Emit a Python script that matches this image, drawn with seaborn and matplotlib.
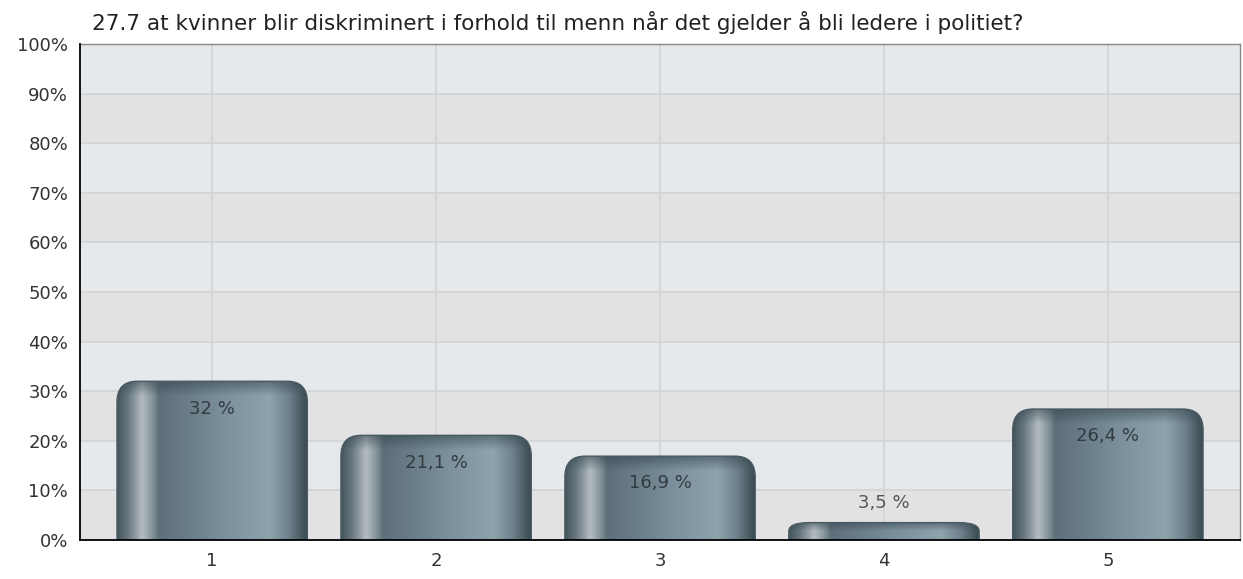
import matplotlib
matplotlib.use('Agg')
import matplotlib.pyplot as plt
from matplotlib.patches import FancyBboxPatch
from matplotlib.colors import LinearSegmentedColormap
import numpy as np
import seaborn as sns
import pandas as pd

title = "27.7 at kvinner blir diskriminert i forhold til menn når det gjelder å bli ledere i politiet?"
categories = ["1", "2", "3", "4", "5"]
values = [32.0, 21.1, 16.9, 3.5, 26.4]
value_labels = ["32 %", "21,1 %", "16,9 %", "3,5 %", "26,4 %"]

df = pd.DataFrame({"kategori": categories, "andel": values})

sns.set_style("white")
plt.rcParams['font.family'] = ['DejaVu Sans']

fig = plt.figure(figsize=(12.43, 5.79), dpi=100)
ax = fig.add_axes([0.0644, 0.0674, 0.9332, 0.8566])

ax = sns.barplot(data=df, x="kategori", y="andel", color="#6f8490", width=0.85, ax=ax, zorder=3)
bars = list(ax.patches)

ax.set_xlim(-0.59, 4.59)
ax.set_ylim(0, 100)

# background bands
ax.set_facecolor("#e6e8ea")
for i in range(10):
    c = "#e2e2e3" if i % 2 == 0 else "#e6e9eb"
    ax.axhspan(i * 10, (i + 1) * 10, color=c, zorder=0, lw=0)
ax.set_yticks(range(0, 101, 10))
ax.set_yticklabels([f"{v}%" for v in range(0, 101, 10)])
ax.grid(True, color="#d2d3d4", lw=1.2, zorder=1)
ax.set_axisbelow(True)

# cylinder-style gradient for bars
cmap = LinearSegmentedColormap.from_list("cyl", [
    (0.00, "#46545c"), (0.06, "#6a7a84"), (0.13, "#b4bcc0"), (0.18, "#8a989f"),
    (0.22, "#5c6e79"), (0.55, "#7a8f9b"), (0.80, "#8fa3ad"), (0.90, "#6e818c"),
    (1.00, "#3a4850")])
grad = np.linspace(0, 1, 256).reshape(1, -1)
vshade = LinearSegmentedColormap.from_list("top", [(0, (0.2, 0.27, 0.3, 0.0)), (1, (0.2, 0.27, 0.3, 0.55))])
rx = 0.09
for p in bars:
    x0, w, h = p.get_x(), p.get_width(), p.get_height()
    p.set_visible(False)
    ry = min(4.2, h * 0.5)
    style = f"round,pad=0,rounding_size={rx}"
    # extend below zero so only the top corners are rounded
    box = FancyBboxPatch((x0, -10), w, h + 10, boxstyle=style, mutation_aspect=ry / rx,
                         facecolor="none", edgecolor="none", zorder=3)
    ax.add_patch(box)
    im = ax.imshow(grad, cmap=cmap, extent=(x0, x0 + w, 0, h), aspect='auto', zorder=3)
    im.set_clip_path(box)
    # darker band along the top
    band = min(3.0, h * 0.5)
    im2 = ax.imshow(np.linspace(0, 1, 64).reshape(-1, 1)[::-1], cmap=vshade,
                    extent=(x0, x0 + w, h - band, h), aspect='auto', zorder=3.5)
    im2.set_clip_path(box)
    rim = FancyBboxPatch((x0, -10), w, h + 10, boxstyle=style, mutation_aspect=ry / rx,
                         facecolor="none", edgecolor="#4a5a63", lw=1.0, zorder=4)
    ax.add_patch(rim)
ax.set_xlim(-0.59, 4.59)
ax.set_ylim(0, 100)

for i, (v, lab) in enumerate(zip(values, value_labels)):
    if v > 10:
        ax.text(i, v - 5.5, lab, ha="center", va="center", fontsize=13, color="#333b40", zorder=5)
    else:
        ax.text(i, v + 4, lab, ha="center", va="center", fontsize=13, color="#555555", zorder=5)

ax.set_xlabel("")
ax.set_ylabel("")
ax.tick_params(axis="both", labelsize=13, labelcolor="#333333", color="black",
               length=5, width=1.2, direction="out")
for s in ["left", "bottom"]:
    ax.spines[s].set_color("black")
    ax.spines[s].set_linewidth(1.3)
    ax.spines[s].set_zorder(6)
for s in ["top", "right"]:
    ax.spines[s].set_color("#888888")
    ax.spines[s].set_linewidth(1.0)

fig.text(0.074, 0.962, title, fontsize=15.5, color="#222222", ha="left", va="center")

plt.savefig("out.png", dpi=100)
